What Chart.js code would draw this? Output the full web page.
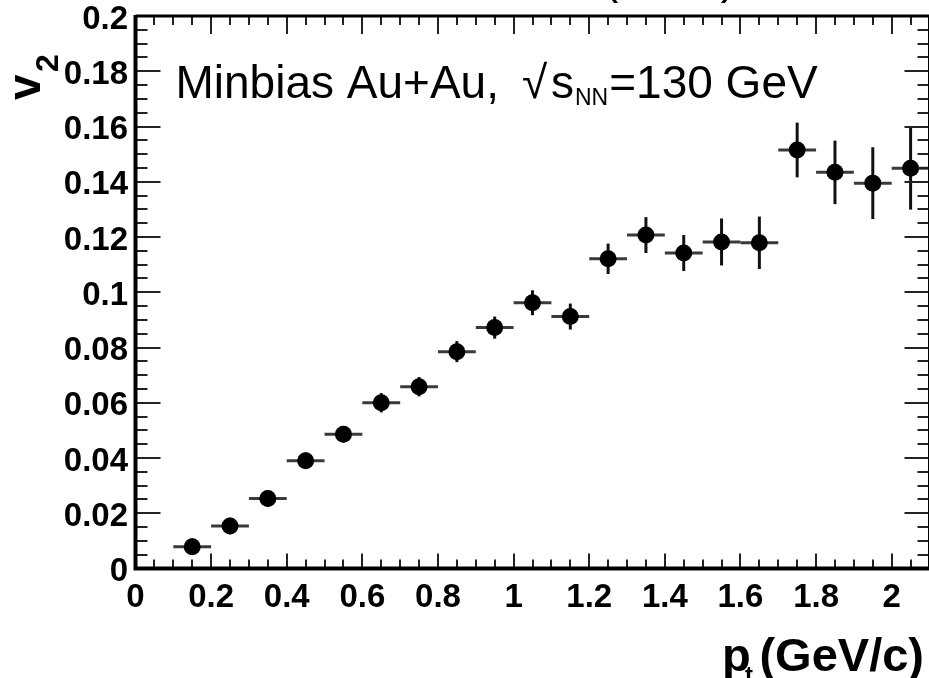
<!DOCTYPE html>
<html>
<head>
<meta charset="utf-8">
<script src="https://cdn.jsdelivr.net/npm/chart.js@4.4.1/dist/chart.umd.min.js"></script>
<style>
  html, body { margin: 0; padding: 0; background: #fff; overflow: hidden; }
  #wrap { width: 929px; height: 678px; overflow: hidden; }
</style>
</head>
<body>
<div id="wrap"><canvas id="c" width="938" height="678"></canvas></div>
<script>
// ---- data ----
const ptValues = [0.15, 0.25, 0.35, 0.45, 0.55, 0.65, 0.75, 0.85, 0.95, 1.05,
                  1.15, 1.25, 1.35, 1.45, 1.55, 1.65, 1.75, 1.85, 1.95, 2.05];
const v2Values = [0.0079, 0.0154, 0.0253, 0.0390, 0.0486, 0.0600, 0.0658, 0.0785, 0.0872, 0.0962,
                  0.0912, 0.1121, 0.1207, 0.1142, 0.1182, 0.1179, 0.1515, 0.1434, 0.1395, 0.1449];
const v2Errors = [0.0030, 0.0030, 0.0030, 0.0030, 0.0030, 0.0035, 0.0035, 0.0038, 0.0040, 0.0045,
                  0.0047, 0.0055, 0.0065, 0.0065, 0.0085, 0.0095, 0.0099, 0.0115, 0.0130, 0.0150];
const ptHalfWidth = [0.05, 0.05, 0.05, 0.05, 0.05, 0.05, 0.05, 0.05, 0.05, 0.05,
                     0.05, 0.05, 0.05, 0.05, 0.05, 0.05, 0.05, 0.05, 0.05, 0.05];
const xTickValues = [0, 0.2, 0.4, 0.6, 0.8, 1, 1.2, 1.4, 1.6, 1.8, 2];
const xTickLabels = ["0", "0.2", "0.4", "0.6", "0.8", "1", "1.2", "1.4", "1.6", "1.8", "2"];
const yTickValues = [0, 0.02, 0.04, 0.06, 0.08, 0.1, 0.12, 0.14, 0.16, 0.18, 0.2];
const yTickLabels = ["0", "0.02", "0.04", "0.06", "0.08", "0.1", "0.12", "0.14", "0.16", "0.18", "0.2"];
const xRange = [0, 2.1];
const yRange = [0, 0.2];
const annotationParts = ["Minbias Au+Au,", "\u221A", "s", "NN", "=130 GeV"];
const xTitleParts = ["p", "t", "(GeV/c)"];
const yTitleParts = ["v", "2"];
const topTitle = "STAR,  PRL 86  (2001)";

const FONT = '"Liberation Sans", Arial, Helvetica, sans-serif';

const errorBarPlugin = {
  id: 'errorBars',
  beforeDatasetsDraw(chart) {
    const { ctx, scales: { x, y } } = chart;
    ctx.save();
    ctx.lineCap = 'butt';
    for (let i = 0; i < ptValues.length; i++) {
      const px = x.getPixelForValue(ptValues[i]);
      const py = y.getPixelForValue(v2Values[i]);
      ctx.strokeStyle = '#3a3a3a';
      ctx.lineWidth = 3;
      ctx.beginPath();
      ctx.moveTo(x.getPixelForValue(ptValues[i] - ptHalfWidth[i]), py);
      ctx.lineTo(x.getPixelForValue(ptValues[i] + ptHalfWidth[i]), py);
      ctx.stroke();
      ctx.strokeStyle = '#111';
      ctx.beginPath();
      ctx.moveTo(px, y.getPixelForValue(v2Values[i] - v2Errors[i]));
      ctx.lineTo(px, y.getPixelForValue(v2Values[i] + v2Errors[i]));
      ctx.stroke();
    }
    ctx.restore();
  }
};

const framePlugin = {
  id: 'frame',
  afterDraw(chart) {
    const { ctx, chartArea: a, scales: { x, y } } = chart;
    ctx.save();
    ctx.strokeStyle = '#222';
    ctx.lineWidth = 2;
    ctx.lineCap = 'butt';
    for (let k = 0; k <= 40; k++) {
      const v = k * 0.005;
      const py = Math.round(y.getPixelForValue(v));
      const len = (k % 4 === 0) ? 25 : 12;
      ctx.beginPath();
      ctx.moveTo(a.left, py); ctx.lineTo(a.left + len, py);
      ctx.moveTo(a.right, py); ctx.lineTo(a.right - len, py);
      ctx.stroke();
    }
    for (let k = 0; k <= 42; k++) {
      const v = k * 0.05;
      const px = Math.round(x.getPixelForValue(v));
      const major = (k % 4 === 0);
      ctx.beginPath();
      ctx.moveTo(px, a.bottom); ctx.lineTo(px, a.bottom - (major ? 15 : 9));
      ctx.moveTo(px, a.top); ctx.lineTo(px, a.top + (major ? 18 : 9));
      ctx.stroke();
    }
    ctx.strokeStyle = '#000';
    ctx.lineWidth = 3;
    ctx.beginPath();
    ctx.moveTo(a.left, a.top); ctx.lineTo(a.right, a.top);
    ctx.moveTo(a.right, a.top); ctx.lineTo(a.right, a.bottom);
    ctx.stroke();
    ctx.lineWidth = 4;
    ctx.beginPath();
    ctx.moveTo(a.left, a.top - 1); ctx.lineTo(a.left, a.bottom + 2);
    ctx.moveTo(a.left - 2, a.bottom); ctx.lineTo(a.right + 1, a.bottom);
    ctx.stroke();
    ctx.restore();
  }
};

const textPlugin = {
  id: 'texts',
  afterDraw(chart) {
    const { ctx, chartArea: a } = chart;
    ctx.save();
    ctx.fillStyle = '#000';
    ctx.textBaseline = 'alphabetic';
    ctx.textAlign = 'left';
    ctx.font = '46px ' + FONT;
    const pre = topTitle.slice(0, topTitle.indexOf('('));
    ctx.fillText(topTitle, 603 - ctx.measureText(pre).width, -7);
    const base = 98;
    ctx.font = '46px ' + FONT;
    ctx.fillText(annotationParts[0], a.left + 40, base);
    ctx.fillText(annotationParts[1], 522, base);
    let xx = 551;
    ctx.fillText(annotationParts[2], xx, base);
    xx += ctx.measureText(annotationParts[2]).width;
    ctx.font = '23px ' + FONT;
    ctx.fillText(annotationParts[3], xx + 1, base + 7);
    xx += 1 + ctx.measureText(annotationParts[3]).width;
    ctx.font = '46px ' + FONT;
    ctx.fillText(annotationParts[4], xx + 1, base);
    ctx.font = 'bold 47px ' + FONT;
    ctx.fillText(xTitleParts[0], 722, 671);
    ctx.font = 'bold 24px ' + FONT;
    ctx.fillText(xTitleParts[1], 745, 683);
    ctx.font = 'bold 47px ' + FONT;
    ctx.textAlign = 'right';
    ctx.fillText(xTitleParts[2], 924, 671);
    ctx.textAlign = 'left';
    ctx.translate(40, 100);
    ctx.rotate(-Math.PI / 2);
    ctx.font = 'bold 46px ' + FONT;
    ctx.fillText(yTitleParts[0], 0, 0);
    ctx.font = 'bold 32px ' + FONT;
    ctx.fillText(yTitleParts[1], 28, 18);
    ctx.restore();
  }
};

new Chart(document.getElementById('c'), {
  type: 'scatter',
  data: {
    datasets: [{
      label: 'v2',
      data: ptValues.map((p, i) => ({ x: p, y: v2Values[i] })),
      pointRadius: 8.5,
      pointHoverRadius: 8.5,
      pointBackgroundColor: '#000',
      pointBorderWidth: 0,
      showLine: false
    }]
  },
  options: {
    responsive: false,
    animation: false,
    devicePixelRatio: 1,
    layout: { padding: { left: 0, top: 16, right: 1.5, bottom: 0 } },
    plugins: { legend: { display: false }, tooltip: { enabled: false }, title: { display: false } },
    scales: {
      x: {
        type: 'linear', min: xRange[0], max: xRange[1],
        grid: { display: false, drawTicks: false },
        border: { display: false },
        afterBuildTicks: s => { s.ticks = xTickValues.map(v => ({ value: v })); },
        afterFit: s => { s.height = 109.5; s.paddingLeft = 0; s.paddingRight = 0; },
        ticks: {
          autoSkip: false, maxRotation: 0, minRotation: 0, padding: 10, labelOffset: 0,
          color: '#000',
          font: { family: FONT, size: 33, weight: 'bold' },
          callback: (v, i) => xTickLabels[i]
        }
      },
      y: {
        type: 'linear', min: yRange[0], max: yRange[1],
        grid: { display: false, drawTicks: false },
        border: { display: false },
        afterBuildTicks: s => { s.ticks = yTickValues.map(v => ({ value: v })); },
        afterFit: s => { s.width = 135.5; s.paddingTop = 0; s.paddingBottom = 0; },
        ticks: {
          autoSkip: false, padding: 7.5, labelOffset: 3.5,
          color: '#000',
          font: { family: FONT, size: 33, weight: 'bold' },
          callback: (v, i) => yTickLabels[i]
        }
      }
    }
  },
  plugins: [errorBarPlugin, framePlugin, textPlugin]
});
</script>
</body>
</html>
